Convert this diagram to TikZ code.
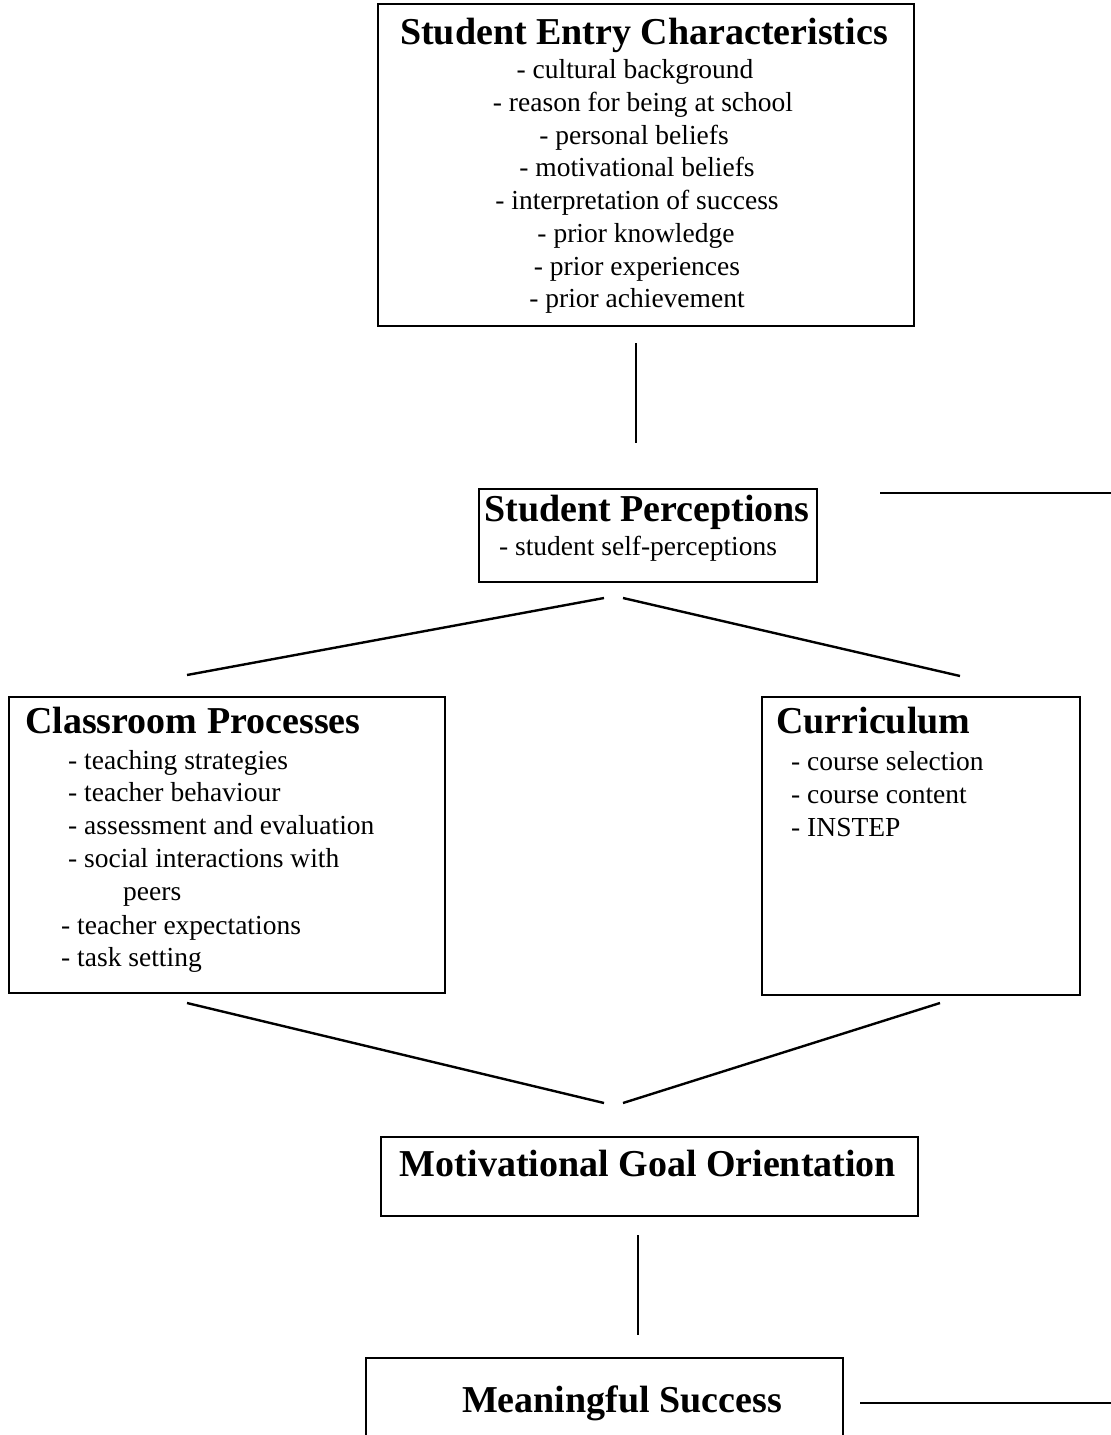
\documentclass[tikz,border=0pt]{standalone}
\usepackage{fontspec}
\setmainfont{Liberation Serif}
\begin{document}
\begin{tikzpicture}[x=1pt,y=-1pt,
  box/.style={draw, line width=2pt, inner sep=0pt, anchor=north west},
  conn/.style={line width=2.4pt},
  ttl/.style={font=\fontsize{38}{42}\selectfont\bfseries, inner sep=0pt, anchor=base},
  ttlw/.style={ttl, anchor=base west},
  itm/.style={font=\fontsize{27.5}{33}\selectfont, inner sep=0pt, anchor=base},
  itmw/.style={itm, anchor=base west},
]
\useasboundingbox (0,0) rectangle (1111,1435);
\clip (0,0) rectangle (1111,1435);
\fill[white] (0,0) rectangle (1111,1435);
% boxes
\node[box, minimum width=536pt, minimum height=322pt] (sec) at (377,3) {};
\node[box, minimum width=338pt, minimum height=93pt] (sp) at (478,488) {};
\node[box, minimum width=436pt, minimum height=296pt] (cp) at (8,696) {};
\node[box, minimum width=318pt, minimum height=298pt] (cu) at (761,696) {};
\node[box, minimum width=537pt, minimum height=79pt] (mgo) at (380,1136) {};
\node[box, minimum width=477pt, minimum height=120pt] (ms) at (365,1357) {};
% texts: student entry characteristics
\node[ttl] (t1) at (644,44) {Student Entry Characteristics};
\node[itm] (t1a) at (635,78) {- cultural background};
\node[itm] (t1b) at (643,111) {- reason for being at school};
\node[itm] (t1c) at (634,144) {- personal beliefs};
\node[itm] (t1d) at (637,176) {- motivational beliefs};
\node[itm] (t1e) at (637,209) {- interpretation of success};
\node[itm] (t1f) at (636,242) {- prior knowledge};
\node[itm] (t1g) at (637,275) {- prior experiences};
\node[itm] (t1h) at (637,307) {- prior achievement};
% student perceptions
\node[ttl] (t2) at (647,521) {Student Perceptions};
\node[itm] (t2a) at (638,555) {- student self-perceptions};
% classroom processes
\node[ttlw] (t3) at (25,733) {Classroom Processes};
\node[itmw] (t3a) at (68,769) {- teaching strategies};
\node[itmw] (t3b) at (68,801) {- teacher behaviour};
\node[itmw] (t3c) at (68,834) {- assessment and evaluation};
\node[itmw] (t3d) at (68,867) {- social interactions with};
\node[itmw] (t3e) at (123,900) {peers};
\node[itmw] (t3f) at (61,934) {- teacher expectations};
\node[itmw] (t3g) at (61,966) {- task setting};
% curriculum
\node[ttlw] (t4) at (776,733) {Curriculum};
\node[itmw] (t4a) at (791,770) {- course selection};
\node[itmw] (t4b) at (791,803) {- course content};
\node[itmw] (t4c) at (791,836) {- INSTEP};
% motivational goal orientation
\node[ttl] (t5) at (648,1176) {Motivational Goal Orientation};
% meaningful success
\node[ttl] (t6) at (622,1412) {Meaningful Success};
% connector end points
\coordinate (v1a) at (636,343);
\coordinate (v1b) at (636,443);
\coordinate (r1a) at (880,493);
\coordinate (r1b) at (1111,493);
\coordinate (d1a) at (604,598);
\coordinate (d1b) at (187,675);
\coordinate (d2a) at (623,598);
\coordinate (d2b) at (960,676);
\coordinate (d3a) at (187,1003);
\coordinate (d3b) at (604,1103);
\coordinate (d4a) at (940,1003);
\coordinate (d4b) at (623,1103);
\coordinate (v2a) at (638,1235);
\coordinate (v2b) at (638,1335);
\coordinate (r2a) at (860,1403);
\coordinate (r2b) at (1111,1403);
\draw[conn] (v1a) -- (v1b);
\draw[conn] (r1a) -- (r1b);
\draw[conn] (d1a) -- (d1b);
\draw[conn] (d2a) -- (d2b);
\draw[conn] (d3a) -- (d3b);
\draw[conn] (d4a) -- (d4b);
\draw[conn] (v2a) -- (v2b);
\draw[conn] (r2a) -- (r2b);
\end{tikzpicture}
\end{document}
